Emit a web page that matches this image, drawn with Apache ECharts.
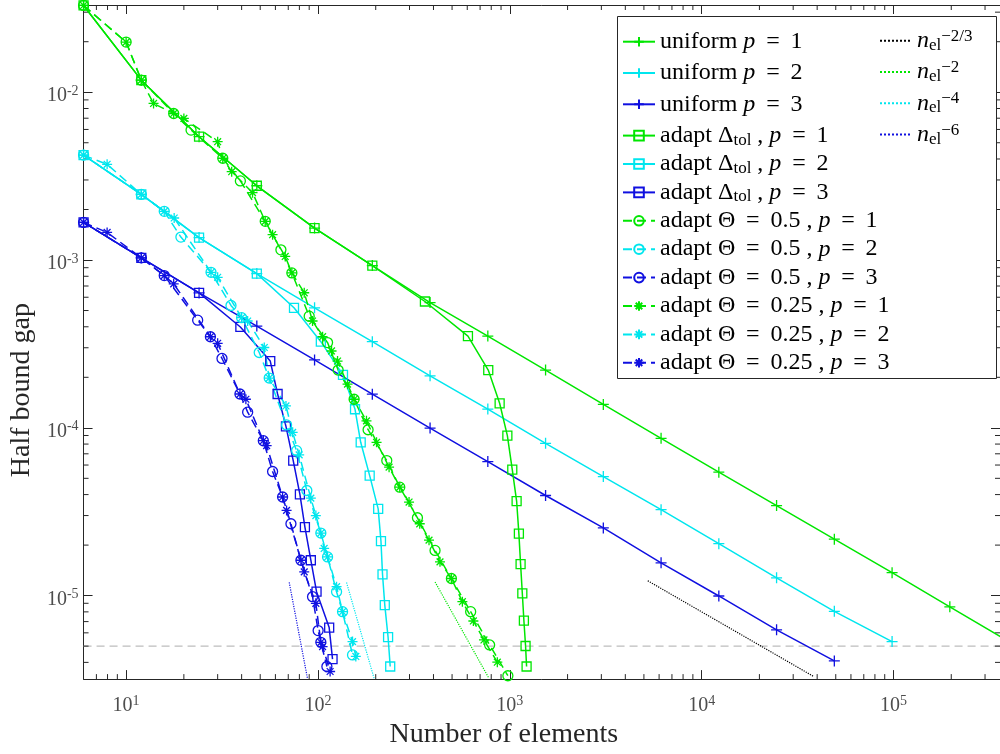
<!DOCTYPE html>
<html>
<head>
<meta charset="utf-8">
<title>Half bound gap</title>
<script src="https://cdn.jsdelivr.net/npm/echarts@6/dist/echarts.min.js"></script>
<style>
  html, body { margin: 0; padding: 0; background: #fff; }
  #chart { width: 1000px; height: 754px; }
</style>
</head>
<body>
<div id="chart"></div>
<script>
// axis ranges and tick labels (exponents of 10)
const xRange = [6, 3.59e5];
const yRange = [3.18e-6, 0.0331];
const xTickExps = [1, 2, 3, 4, 5];
const yTickExps = [-5, -4, -3, -2];
const minorSteps = [2, 3, 4, 5, 6, 7, 8, 9];
const floorGap = 5e-6;

// uniform refinement
const uniformN = [6, 12, 24, 48, 96, 192, 384, 768, 1536, 3072, 6144, 12288, 24576, 49152, 98304, 196608, 393216];
const uniformGapP1 = [0.0329, 0.0118, 0.00543, 0.00277, 0.00155, 9.26e-4, 5.58e-4, 3.52e-4, 2.21e-4, 1.378e-4, 8.66e-5, 5.44e-5, 3.44e-5, 2.17e-5, 1.37e-5, 8.57e-6, 5.37e-6];
const uniformGapP2 = [0.00422, 0.00246, 0.00136, 8.3e-4, 5.19e-4, 3.26e-4, 2.04e-4, 1.293e-4, 8.08e-5, 5.12e-5, 3.25e-5, 2.04e-5, 1.277e-5, 8.06e-6, 5.32e-6];
const uniformGapP3 = [0.001675, 0.00103, 6.37e-4, 4.04e-4, 2.54e-4, 1.587e-4, 9.97e-5, 6.29e-5, 3.95e-5, 2.53e-5, 1.568e-5, 9.95e-6, 6.25e-6, 4.08e-6];

// adaptive, Delta_tol  [elements, gap]
const dtolP1 = [[6, 0.0329], [12, 0.0118], [24, 0.00543], [48, 0.00277], [96, 0.00155], [192, 9.26e-4], [361, 5.66e-4], [605, 3.52e-4], [772, 2.21e-4], [885, 1.4e-4], [971, 8.98e-5], [1030, 5.64e-5], [1085, 3.66e-5], [1115, 2.34e-5], [1138, 1.54e-5], [1162, 1.03e-5], [1184, 7.1e-6], [1208, 5.01e-6], [1223, 3.78e-6]];
const dtolP2 = [[6, 0.00422], [12, 0.00246], [24, 0.00136], [48, 8.3e-4], [75, 5.19e-4], [103.5, 3.26e-4], [135, 2.07e-4], [156, 1.29e-4], [167, 8.2e-5], [186, 5.19e-5], [206, 3.29e-5], [213, 2.11e-5], [217, 1.34e-5], [223, 8.78e-6], [232, 5.65e-6], [238, 3.78e-6]];
const dtolP3 = [[6, 0.001675], [12, 0.00103], [24, 6.37e-4], [39.4, 3.99e-4], [56.4, 2.5e-4], [61.6, 1.59e-4], [68.1, 1.02e-4], [74.3, 6.38e-5], [80.5, 4.01e-5], [85.5, 2.56e-5], [91.8, 1.625e-5], [98.3, 1.055e-5], [114.4, 6.45e-6], [119.1, 4.18e-6]];

// adaptive, Theta = 0.5
const theta05P1 = [[6, 0.0329], [10, 0.0199], [12, 0.0118], [17.7, 0.00747], [21.8, 0.00595], [31.9, 0.00404], [39.4, 0.00296], [53.1, 0.0017], [64.1, 0.00115], [73.1, 8.38e-4], [90, 4.63e-4], [112.2, 3.22e-4], [127.4, 2.21e-4], [154.3, 1.48e-4], [182.5, 9.74e-5], [228.4, 6.38e-5], [266.9, 4.43e-5], [330, 2.91e-5], [407.6, 1.86e-5], [496, 1.265e-5], [625, 8.02e-6], [785, 5.08e-6], [977, 3.33e-6]];
const theta05P2 = [[6, 0.00422], [12, 0.00246], [15.8, 0.00195], [19.3, 0.00137], [27.7, 8.45e-4], [35.2, 5.36e-4], [40, 4.53e-4], [49.4, 2.81e-4], [55.7, 1.98e-4], [68.6, 1.04e-4], [77.4, 7.31e-5], [87.5, 4.23e-5], [103.5, 2.36e-5], [112.2, 1.7e-5], [125, 1.054e-5], [134.3, 8.02e-6], [151.4, 4.43e-6]];
const theta05P3 = [[6, 0.001675], [12, 0.00103], [15.8, 8.08e-4], [23.6, 4.38e-4], [27.5, 3.49e-4], [31.6, 2.59e-4], [39.2, 1.59e-4], [43, 1.24e-4], [51.9, 8.38e-5], [58, 5.49e-5], [65.4, 3.87e-5], [72.3, 2.68e-5], [81.5, 1.625e-5], [93.7, 9.85e-6], [100.2, 6.19e-6], [103.5, 5.27e-6], [111.3, 3.78e-6]];

// adaptive, Theta = 0.25
const theta025P1 = [[6, 0.0329], [10, 0.0199], [12, 0.0118], [13.9, 0.00857], [17.7, 0.00747], [20, 0.00698], [30, 0.00507], [31.9, 0.00404], [35.5, 0.00336], [45.6, 0.00252], [53.1, 0.0017], [58, 0.001415], [67.5, 0.00105], [73.1, 8.38e-4], [84.8, 6.38e-4], [93.7, 4.33e-4], [105.7, 3.49e-4], [117.7, 2.87e-4], [126.5, 2.5e-4], [142.6, 1.82e-4], [154.3, 1.48e-4], [179, 1.1e-4], [202, 8.2e-5], [234.8, 5.83e-5], [266.9, 4.43e-5], [298.4, 3.61e-5], [339.2, 2.68e-5], [379.2, 2.14e-5], [432.6, 1.59e-5], [496, 1.265e-5], [565.9, 9.2e-6], [645.7, 7.06e-6], [733.3, 5.44e-6], [860.8, 4.01e-6]];
const theta025P2 = [[6, 0.00422], [7.96, 0.00372], [12, 0.00246], [15.8, 0.00195], [17.8, 0.00178], [27.7, 8.45e-4], [30, 7.89e-4], [40, 4.53e-4], [43, 4.33e-4], [52.5, 3.01e-4], [55.7, 1.98e-4], [68.1, 1.35e-4], [73.8, 9.4e-5], [79.8, 6.9e-5], [91.8, 3.81e-5], [97.5, 3.0e-5], [103.5, 2.36e-5], [107.7, 1.91e-5], [112.2, 1.7e-5], [125, 1.13e-5], [134.3, 8.02e-6], [151.4, 5.32e-6], [157.5, 4.34e-6]];
const theta025P3 = [[6, 0.001675], [7.96, 0.00146], [12, 0.00103], [15.8, 8.08e-4], [17.7, 7.21e-4], [27.5, 3.49e-4], [30, 3.19e-4], [39.2, 1.59e-4], [42.1, 1.48e-4], [51.9, 8.38e-5], [54, 7.83e-5], [65.4, 3.87e-5], [68.6, 3.22e-5], [81.5, 1.625e-5], [84.8, 1.386e-5], [97.5, 8.99e-6], [103.5, 5.27e-6], [105.7, 4.97e-6], [115.7, 3.53e-6]];

// slope guides, read at their two ends
const guideNeg23 = [[5236, 1.226e-5], [38280, 3.3e-6]];
const guideNeg2 = [[407.6, 1.206e-5], [778, 3.22e-6]];
const guideNeg4 = [[140.9, 1.197e-5], [196, 3.22e-6]];
const guideNeg6 = [[70.8, 1.2e-5], [88.2, 3.2e-6]];

const GREEN = '#00e600';
const CYAN = '#00e6ee';
const BLUE = '#1010e0';
const AXIS = '#262626';
const FONT = 'Liberation Serif';

const plusSym = 'path://M0,5L10,5M5,0L5,10';
const starSym = 'path://M0,5L10,5M5,0L5,10M1.6,1.6L8.4,8.4M1.6,8.4L8.4,1.6';

function zip(xs, ys) {
  return ys.map((y, i) => [xs[i], y]);
}

function lineSeries(name, data, color, symbol, size, dash) {
  return {
    name: name,
    type: 'line',
    data: data,
    symbol: symbol,
    symbolSize: size,
    lineStyle: { color: color, width: 1.5, type: dash || 'solid' },
    itemStyle: { color: 'rgba(0,0,0,0)', borderColor: color, borderWidth: 1.3 },
    emphasis: { disabled: true },
    animation: false
  };
}

function guideSeries(name, data, color) {
  return {
    name: name,
    type: 'line',
    data: data,
    symbol: 'circle',
    showSymbol: false,
    lineStyle: { color: color, width: 1.2, type: 'dotted' },
    itemStyle: { color: 'rgba(0,0,0,0)', borderWidth: 0 },
    emphasis: { disabled: true },
    animation: false
  };
}

const dash = [9, 5];
const seriesList = [
  // dashed floor line across the whole plot
  {
    type: 'line',
    silent: true,
    animation: false,
    symbol: 'none',
    data: [[xRange[0], floorGap], [xRange[1], floorGap]],
    lineStyle: { color: '#bdbdbd', type: [8, 5], width: 1.3 },
    z: 1
  },
  lineSeries('uniform p = 1', zip(uniformN, uniformGapP1), GREEN, plusSym, 11),
  lineSeries('uniform p = 2', zip(uniformN, uniformGapP2), CYAN, plusSym, 11),
  lineSeries('uniform p = 3', zip(uniformN, uniformGapP3), BLUE, plusSym, 11),
  lineSeries('adapt Δtol , p = 1', dtolP1, GREEN, 'rect', 9),
  lineSeries('adapt Δtol , p = 2', dtolP2, CYAN, 'rect', 9),
  lineSeries('adapt Δtol , p = 3', dtolP3, BLUE, 'rect', 9),
  lineSeries('adapt Θ = 0.5 , p = 1', theta05P1, GREEN, 'circle', 10, dash),
  lineSeries('adapt Θ = 0.5 , p = 2', theta05P2, CYAN, 'circle', 10, dash),
  lineSeries('adapt Θ = 0.5 , p = 3', theta05P3, BLUE, 'circle', 10, dash),
  lineSeries('adapt Θ = 0.25 , p = 1', theta025P1, GREEN, starSym, 10, dash),
  lineSeries('adapt Θ = 0.25 , p = 2', theta025P2, CYAN, starSym, 10, dash),
  lineSeries('adapt Θ = 0.25 , p = 3', theta025P3, BLUE, starSym, 10, dash),
  guideSeries('n_el^-2/3', guideNeg23, '#000000'),
  guideSeries('n_el^-2', guideNeg2, GREEN),
  guideSeries('n_el^-4', guideNeg4, CYAN),
  guideSeries('n_el^-6', guideNeg6, BLUE)
];

// minor ticks at 2..9 x 10^k, drawn on all four sides
const minorX = [];
for (let e = 0; e <= 5; e++) {
  minorSteps.forEach(m => {
    const v = m * Math.pow(10, e);
    if (v > xRange[0] && v < xRange[1]) minorX.push([v, yRange[0]]);
  });
}
const minorY = [];
for (let e = -6; e <= -2; e++) {
  minorSteps.forEach(m => {
    const v = m * Math.pow(10, e);
    if (v > yRange[0] && v < yRange[1]) minorY.push([xRange[0], v]);
  });
}
const tickStyle = { stroke: AXIS, lineWidth: 1 };
seriesList.push({
  type: 'custom',
  silent: true,
  animation: false,
  data: minorX,
  renderItem: (params, api) => {
    const v = api.value(0);
    const b = api.coord([v, yRange[0]]);
    const t = api.coord([v, yRange[1]]);
    return {
      type: 'group',
      children: [
        { type: 'line', shape: { x1: b[0], y1: b[1], x2: b[0], y2: b[1] - 5 }, style: tickStyle },
        { type: 'line', shape: { x1: t[0], y1: t[1], x2: t[0], y2: t[1] + 5 }, style: tickStyle }
      ]
    };
  }
});
seriesList.push({
  type: 'custom',
  silent: true,
  animation: false,
  data: minorY,
  renderItem: (params, api) => {
    const v = api.value(1);
    const l = api.coord([xRange[0], v]);
    const r = api.coord([xRange[1], v]);
    return {
      type: 'group',
      children: [
        { type: 'line', shape: { x1: l[0], y1: l[1], x2: l[0] + 5, y2: l[1] }, style: tickStyle },
        { type: 'line', shape: { x1: r[0], y1: r[1], x2: r[0] - 5, y2: r[1] }, style: tickStyle }
      ]
    };
  }
});

function powerLabel(exps) {
  return function (value) {
    const e = Math.log10(value);
    const k = Math.round(e);
    if (Math.abs(e - k) > 1e-6 || exps.indexOf(k) < 0) return '';
    return '{b|10}{s|' + k + '}';
  };
}

const tickRich = {
  b: { fontFamily: FONT, fontSize: 20, lineHeight: 24, color: '#4d4d4d' },
  s: { fontFamily: FONT, fontSize: 14, lineHeight: 12, verticalAlign: 'top', color: '#4d4d4d' }
};

function axisBase(extra) {
  return Object.assign({
    type: 'log',
    logBase: 10,
    axisLine: { show: true, lineStyle: { color: AXIS, width: 1 } },
    axisTick: { show: true, inside: true, length: 9, lineStyle: { color: AXIS, width: 1 } },
    splitLine: { show: false },
    minorTick: { show: false }
  }, extra);
}

const legendRich = {
  i: { fontFamily: FONT, fontSize: 24, fontStyle: 'italic', lineHeight: 26, color: '#000' },
  tol: { fontFamily: FONT, fontSize: 17, lineHeight: 20, verticalAlign: 'bottom', color: '#000' },
  sub: { fontFamily: FONT, fontSize: 17, lineHeight: 16, verticalAlign: 'bottom', color: '#000' },
  sup: { fontFamily: FONT, fontSize: 17, lineHeight: 4, verticalAlign: 'top', color: '#000' }
};

const guideText = {
  'n_el^-2/3': '{i|n}{sub|el}{sup|−2/3}',
  'n_el^-2': '{i|n}{sub|el}{sup|−2}',
  'n_el^-4': '{i|n}{sub|el}{sup|−4}',
  'n_el^-6': '{i|n}{sub|el}{sup|−6}'
};

// math-style spacing around '=' as in the LaTeX legend
function legendFormatter(name) {
  if (guideText[name]) return guideText[name];
  return name
    .replace('Δtol', 'Δ{tol|tol}')
    .replace('p = ', '{i|p} = ')
    .split(' = ').join('\u2009 = \u2009');
}

function legendBase(extra) {
  return Object.assign({
    orient: 'vertical',
    padding: 0,
    itemWidth: 32,
    itemHeight: 12,
    selectedMode: false,
    formatter: legendFormatter,
    textStyle: { fontFamily: FONT, fontSize: 24, lineHeight: 26, color: '#000', rich: legendRich },
    z: 10
  }, extra);
}

const names = seriesList.filter(s => s.name).map(s => s.name);

const option = {
  backgroundColor: '#ffffff',
  animation: false,
  grid: { left: 82, right: 0, top: 5, bottom: 73, containLabel: false },
  xAxis: [
    axisBase({
      min: xRange[0], max: xRange[1], position: 'bottom',
      name: 'Number of elements', nameLocation: 'middle', nameGap: 39,
      nameTextStyle: { fontFamily: FONT, fontSize: 28, color: AXIS, padding: [0, 76, 0, 0] },
      axisLabel: { formatter: powerLabel(xTickExps), rich: tickRich, margin: 15, showMinLabel: false, showMaxLabel: false }
    }),
    axisBase({
      min: xRange[0], max: xRange[1], position: 'top',
      axisLabel: { show: false }
    })
  ],
  yAxis: [
    axisBase({
      min: yRange[0], max: yRange[1], position: 'left',
      name: 'Half bound gap', nameLocation: 'middle', nameGap: 45,
      nameTextStyle: { fontFamily: FONT, fontSize: 28, color: AXIS, padding: [0, 96, 0, 0] },
      axisLabel: { formatter: powerLabel(yTickExps), rich: tickRich, margin: 5, padding: [8, 0, 0, 0], showMinLabel: false, showMaxLabel: false }
    }),
    axisBase({
      min: yRange[0], max: yRange[1], position: 'right',
      axisLabel: { show: false }
    })
  ],
  legend: [
    legendBase({ left: 622, top: 28.7, itemGap: 5.3, data: names.slice(0, 4) }),
    legendBase({ left: 622, top: 151, itemGap: 2.4, data: names.slice(4, 12) }),
    legendBase({ left: 879, top: 27.7, itemGap: 5.3, data: names.slice(12, 16) })
  ],
  graphic: [{
    type: 'rect',
    z: 5,
    shape: { x: 617.5, y: 16.5, width: 379, height: 362 },
    style: { fill: '#ffffff', stroke: AXIS, lineWidth: 1 }
  }],
  series: seriesList
};

const chart = echarts.init(document.getElementById('chart'), null, { renderer: 'canvas' });
chart.setOption(option);
</script>
</body>
</html>
